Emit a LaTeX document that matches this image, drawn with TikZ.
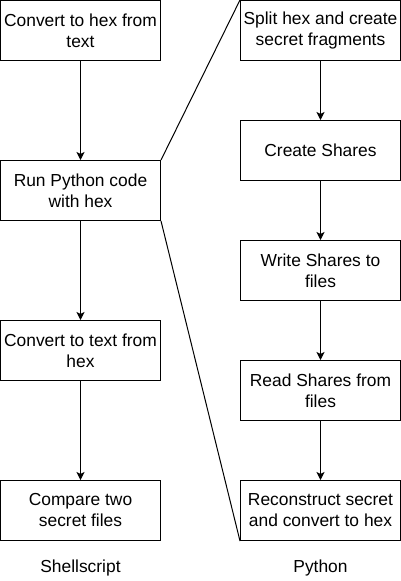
\documentclass[tikz,border=0pt]{standalone}
\usepackage{fontspec}
\setmainfont{Liberation Sans}
\usetikzlibrary{arrows.meta}
\begin{document}
\begin{tikzpicture}[x=1pt,y=-1pt,
  box/.style={draw=black,line width=1pt,rectangle,minimum width=160pt,minimum height=60pt,
    inner sep=0pt,align=center,font=\fontsize{17.4}{21}\selectfont},
  lbl/.style={inner sep=0pt,font=\fontsize{17.4}{21}\selectfont},
  arr/.style={draw=black,line width=1pt,-{Stealth[length=8pt,width=8pt,inset=2pt]}},
  ln/.style={draw=black,line width=1pt}]
\useasboundingbox (0,0) rectangle (401,581);
\node[box] (l1) at (80.5,30.5) {Convert to hex from\\text};
\node[box] (l2) at (80.5,190.5) {Run Python code\\with hex};
\node[box] (l3) at (80.5,350.5) {Convert to text from\\hex};
\node[box] (l4) at (80.5,510.5) {Compare two\\secret files};
\node[box] (r1) at (320.5,30.5) {Split hex and create\\secret fragments};
\node[box] (r2) at (320.5,150.5) {Create Shares};
\node[box] (r3) at (320.5,270.5) {Write Shares to\\files};
\node[box] (r4) at (320.5,390.5) {Read Shares from\\files};
\node[box] (r5) at (320.5,510.5) {Reconstruct secret\\and convert to hex};
\node[lbl] (s) at (80.5,568) {Shellscript};
\node[lbl] (p) at (320.5,568) {Python};
\draw[arr] (l1) -- (l2);
\draw[arr] (l2) -- (l3);
\draw[arr] (l3) -- (l4);
\draw[arr] (r1) -- (r2);
\draw[arr] (r2) -- (r3);
\draw[arr] (r3) -- (r4);
\draw[arr] (r4) -- (r5);
\draw[ln] (l2.north east) -- (r1.north west);
\draw[ln] (l2.south east) -- (r5.south west);
\end{tikzpicture}
\end{document}
